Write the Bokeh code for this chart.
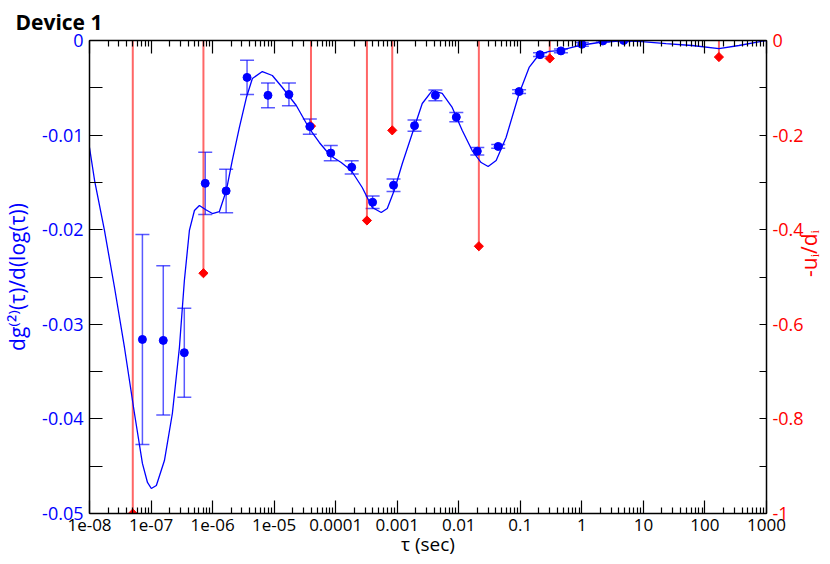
from math import pi
from bokeh.plotting import figure
from bokeh.models import (Range1d, LinearAxis, LogAxis, FixedTicker, Whisker, TeeHead,
                          ColumnDataSource)
from bokeh.embed import file_html
from bokeh.resources import INLINE

# ---------------- data ----------------
tau_pts = [7.24e-8, 1.58e-7, 3.47e-7, 7.59e-7, 1.66e-6, 3.63e-6, 7.94e-6, 1.74e-5,
           3.80e-5, 8.32e-5, 1.82e-4, 3.98e-4, 8.71e-4, 1.91e-3, 4.17e-3, 9.12e-3,
           0.0200, 0.0437, 0.0955, 0.209, 0.457, 1.0, 2.19, 4.79]
g_pts = [-0.0316, -0.0317, -0.0330, -0.0151, -0.0159, -0.0039, -0.0058, -0.0057,
         -0.0091, -0.0119, -0.0134, -0.0171, -0.0153, -0.0090, -0.0058, -0.0081,
         -0.0117, -0.0112, -0.0054, -0.0015, -0.0011, -0.0004, -0.00005, 0.0]
g_err = [0.0111, 0.0079, 0.0047, 0.0033, 0.0023, 0.0018, 0.0013, 0.0012,
         0.0008, 0.0008, 0.0007, 0.00066, 0.00066, 0.0006, 0.00056, 0.0005,
         0.0004, 0.0002, 0.0002, 0.0002, 0.0002, 0.0002, 0.0001, 0.0001]

tau_fit = [1.00e-8, 1.21e-8, 1.75e-8, 2.55e-8, 3.70e-8, 5.38e-8, 7.24e-8, 8.75e-8,
           1.01e-7, 1.22e-7, 1.65e-7, 2.22e-7, 2.89e-7, 3.48e-7, 4.20e-7, 5.07e-7,
           6.11e-7, 7.64e-7, 9.93e-7, 1.29e-6, 1.67e-6, 2.09e-6, 2.72e-6, 3.54e-6,
           4.43e-6, 6.43e-6, 9.35e-6, 1.36e-5, 2.29e-5, 3.72e-5, 5.42e-5, 8.17e-5,
           1.23e-4, 1.79e-4, 2.70e-4, 3.93e-4, 5.50e-4, 6.89e-4, 8.93e-4, 1.21e-3,
           1.89e-3, 2.55e-3, 3.70e-3, 5.38e-3, 7.82e-3, 1.14e-2, 1.65e-2, 2.31e-2,
           3.00e-2, 4.05e-2, 5.87e-2, 9.57e-2, 0.139, 0.202, 0.294, 0.427,
           0.902, 1.90, 4.50, 9.48, 23.3, 61.5, 169.0, 356.0, 1000.0]
g_fit = [-0.01131, -0.01480, -0.02008, -0.02611, -0.03245, -0.03943, -0.04471, -0.04672,
         -0.04736, -0.04704, -0.04440, -0.03943, -0.03245, -0.02537, -0.02008, -0.01797,
         -0.01744, -0.01786, -0.01829, -0.01808, -0.01586, -0.01268, -0.00920, -0.00603,
         -0.00402, -0.00328, -0.00370, -0.00497, -0.00687, -0.00930, -0.01078, -0.01216,
         -0.01290, -0.01374, -0.01554, -0.01765, -0.01818, -0.01776, -0.01586, -0.01300,
         -0.00920, -0.00666, -0.00529, -0.00560, -0.00708, -0.00951, -0.01163, -0.01290,
         -0.01332, -0.01268, -0.01025, -0.00560, -0.00285, -0.00148, -0.00116, -0.00106,
         -0.00053, -0.00021, -0.00005, -0.00011, -0.00032, -0.00053, -0.00085, -0.00053, 0.0]

tau_stem = [5.05e-8, 7.1e-7, 3.97e-5, 3.22e-4, 8.3e-4, 0.0212, 0.301, 168.7]
ud_stem = [-1.0, -0.492, -0.181, -0.3805, -0.190, -0.435, -0.038, -0.035]
stem_top = [0.0, 0.0, 0.0, 0.0, 0.0, 0.0, 0.0, 0.0]

x_tick_vals = [1e-08, 1e-07, 1e-06, 1e-05, 0.0001, 0.001, 0.01, 0.1, 1.0, 10.0, 100.0, 1000.0]
x_tick_labels = ["1e-08", "1e-07", "1e-06", "1e-05", "0.0001", "0.001", "0.01", "0.1",
                 "1", "10", "100", "1000"]
yl_tick_vals = [0.0, -0.01, -0.02, -0.03, -0.04, -0.05]
yl_tick_labels = ["0", "-0.01", "-0.02", "-0.03", "-0.04", "-0.05"]
yl_minor = [-0.005, -0.015, -0.025, -0.035, -0.045]
yr_tick_vals = [0.0, -0.2, -0.4, -0.6, -0.8, -1.0]
yr_tick_labels = ["0", "-0.2", "-0.4", "-0.6", "-0.8", "-1"]
yr_minor = [-0.1, -0.3, -0.5, -0.7, -0.9]

BLUE = "#0000ff"
RED = "#ff0000"
FONT = "Open Sans"

x_minor = [m * 10.0 ** e for e in range(-8, 3) for m in range(2, 10)]

# ---------------- figure ----------------
p = figure(x_axis_type="log", x_range=Range1d(1e-8, 1000), y_range=Range1d(-0.05, 0),
           frame_width=677, frame_height=473,
           min_border_left=0, min_border_right=0, min_border_top=0, min_border_bottom=0,
           output_backend="svg", toolbar_location=None)
p.xgrid.visible = False
p.ygrid.visible = False
p.outline_line_color = "black"
p.outline_line_width = 1
p.background_fill_color = "white"
p.border_fill_color = "white"

p.title.text = "Device 1"
p.title.text_font = FONT
p.title.text_font_size = "21px"
p.title.text_font_style = "bold"
p.title.text_color = "black"
p.title.align = "left"
p.title.offset = -74
p.title.standoff = 10

xt = FixedTicker(ticks=x_tick_vals, minor_ticks=x_minor)

xax = p.xaxis[0]
xax.ticker = xt
xax.major_label_overrides = dict(zip(x_tick_vals, x_tick_labels))
xax.major_tick_in = 13
xax.major_tick_out = 0
xax.minor_tick_in = 6
xax.minor_tick_out = 0
xax.axis_line_width = 1.5
xax.major_tick_line_width = 1.2
xax.minor_tick_line_width = 1.2
xax.major_label_text_font = FONT
xax.major_label_text_font_size = "17px"
xax.major_label_text_color = "black"
xax.major_label_standoff = 5
xax.axis_label = "τ (sec)"
xax.axis_label_text_font = FONT
xax.axis_label_text_font_size = "19px"
xax.axis_label_text_font_style = "normal"
xax.axis_label_text_color = "black"
xax.axis_label_standoff = -3

top = LogAxis(ticker=xt, major_label_text_font_size="1px", major_label_text_alpha=0,
              major_label_standoff=0,
              major_tick_in=13, major_tick_out=0, minor_tick_in=6, minor_tick_out=0,
              axis_line_width=1.5, major_tick_line_width=1.2, minor_tick_line_width=1.2)
p.add_layout(top, "above")

yax = p.yaxis[0]
yax.ticker = FixedTicker(ticks=yl_tick_vals, minor_ticks=yl_minor)
yax.major_label_overrides = dict(zip(yl_tick_vals, yl_tick_labels))
yax.major_tick_in = 13
yax.major_tick_out = 0
yax.minor_tick_in = 13
yax.minor_tick_out = 0
yax.axis_line_width = 1.5
yax.major_tick_line_width = 1.2
yax.minor_tick_line_width = 1.2
yax.major_label_text_font = FONT
yax.major_label_text_font_size = "18px"
yax.major_label_text_color = BLUE
yax.major_label_standoff = 6
yax.axis_label = "dg⁽²⁾(τ)/d(log(τ))"
yax.axis_label_text_font = FONT
yax.axis_label_text_font_size = "21px"
yax.axis_label_text_font_style = "normal"
yax.axis_label_text_color = BLUE
yax.axis_label_standoff = 8

p.extra_y_ranges = {"right": Range1d(-1, 0)}
rax = LinearAxis(y_range_name="right",
                 ticker=FixedTicker(ticks=yr_tick_vals, minor_ticks=yr_minor),
                 major_label_overrides=dict(zip(yr_tick_vals, yr_tick_labels)),
                 major_tick_in=7, major_tick_out=0, minor_tick_in=7, minor_tick_out=0,
                 axis_line_width=1.5, major_tick_line_width=1.2, minor_tick_line_width=1.2,
                 major_label_text_font=FONT, major_label_text_font_size="18px",
                 major_label_text_color=RED, major_label_standoff=6,
                 axis_label="-uᵢ/dᵢ", axis_label_text_font=FONT,
                 axis_label_text_font_size="21px", axis_label_text_font_style="normal",
                 axis_label_text_color=RED, axis_label_standoff=2)
if "axis_label_orientation" in LinearAxis.properties():
    rax.axis_label_orientation = pi / 2
p.add_layout(rax, "right")

# ---------------- marks ----------------
stem_src = ColumnDataSource(dict(x=tau_stem, y0=stem_top, y1=ud_stem))
p.segment(x0="x", y0="y0", x1="x", y1="y1", source=stem_src, y_range_name="right",
          line_color=RED, line_alpha=0.6, line_width=2)
p.scatter(x="x", y="y1", source=stem_src, y_range_name="right", marker="square",
          angle=pi / 4, size=6.5, fill_color=RED, line_color=RED)

p.line(tau_fit, g_fit, line_color=BLUE, line_width=1.3)

err_src = ColumnDataSource(dict(x=tau_pts, y=g_pts,
                                upper=[g + e for g, e in zip(g_pts, g_err)],
                                lower=[g - e for g, e in zip(g_pts, g_err)]))
head = dict(size=14, line_color=BLUE, line_alpha=0.65, line_width=1.5)
p.add_layout(Whisker(source=err_src, base="x", upper="upper", lower="lower",
                     dimension="height", line_color=BLUE, line_alpha=0.65, line_width=1.5,
                     upper_head=TeeHead(**head), lower_head=TeeHead(**head)))
p.scatter(x="x", y="y", source=err_src, marker="circle", size=8,
          fill_color=BLUE, line_color=BLUE)

open("out.html", "w").write(file_html(p, INLINE))
